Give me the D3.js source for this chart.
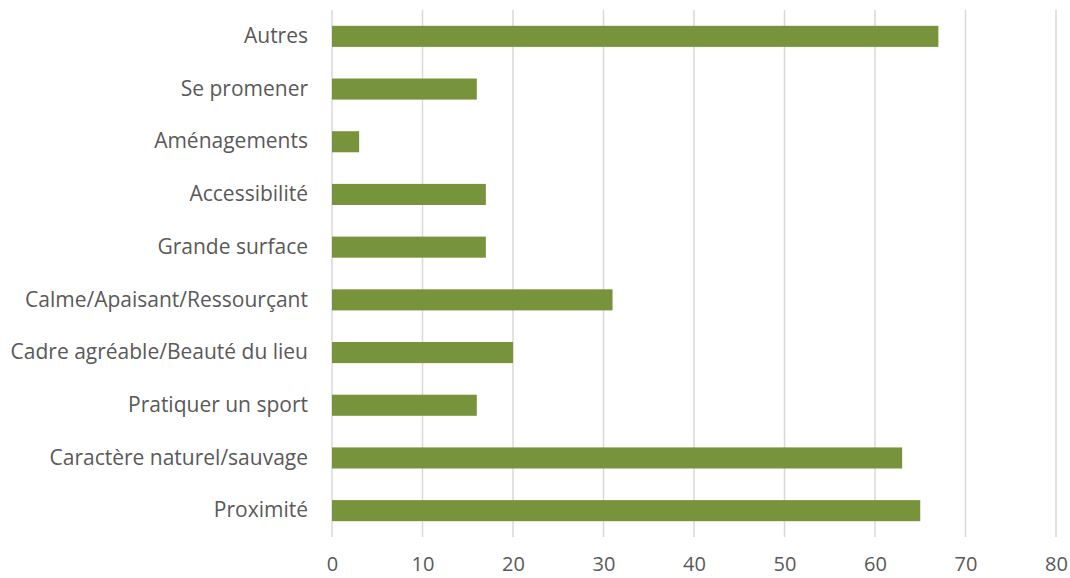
<!DOCTYPE html>
<html>
<head>
<meta charset="utf-8">
<script src="https://cdn.jsdelivr.net/npm/d3@7"></script>
<style>
  body { margin: 0; background: #fff; }
  text { font-family: "Open Sans", "Noto Sans", sans-serif; fill: #595959; }
</style>
</head>
<body>
<svg id="chart" width="1070" height="578"></svg>
<script>
const categories = [
  "Autres",
  "Se promener",
  "Aménagements",
  "Accessibilité",
  "Grande surface",
  "Calme/Apaisant/Ressourçant",
  "Cadre agréable/Beauté du lieu",
  "Pratiquer un sport",
  "Caractère naturel/sauvage",
  "Proximité"
];
const values = [67, 16, 3, 17, 17, 31, 20, 16, 63, 65];
const xTicks = [0, 10, 20, 30, 40, 50, 60, 70, 80];

const svg = d3.select("#chart");
const margin = { top: 10, right: 14, bottom: 41, left: 332 };
const width = 1070 - margin.left - margin.right;
const height = 578 - margin.top - margin.bottom;

const g = svg.append("g").attr("transform", `translate(${margin.left},${margin.top})`);

const x = d3.scaleLinear().domain([0, 80]).range([0, width]);
const y = d3.scaleBand()
  .domain(categories)
  .range([0, height])
  .paddingInner(0.6)
  .paddingOuter(0.3);

// vertical gridlines
g.append("g")
  .selectAll("line")
  .data(xTicks)
  .join("line")
  .attr("x1", (d) => x(d))
  .attr("x2", (d) => x(d))
  .attr("y1", 0)
  .attr("y2", height)
  .attr("stroke", "#d9d9d9")
  .attr("stroke-width", 1.5);

// bars
g.append("g")
  .selectAll("rect")
  .data(values)
  .join("rect")
  .attr("x", x(0))
  .attr("y", (d, i) => y(categories[i]))
  .attr("width", (d) => x(d) - x(0))
  .attr("height", y.bandwidth())
  .attr("fill", "#77933c");

// x axis labels
const xAxis = g.append("g")
  .attr("transform", `translate(0,${height})`)
  .call(d3.axisBottom(x).tickValues(xTicks).tickSize(0).tickPadding(20));
xAxis.select(".domain").remove();
xAxis.selectAll("text").style("font-size", "20px").attr("fill", "#595959");

// category labels
const yAxis = g.append("g")
  .call(d3.axisLeft(y).tickSize(0).tickPadding(24));
yAxis.select(".domain").remove();
yAxis.selectAll("text").style("font-size", "21px").attr("fill", "#595959");
</script>
</body>
</html>
